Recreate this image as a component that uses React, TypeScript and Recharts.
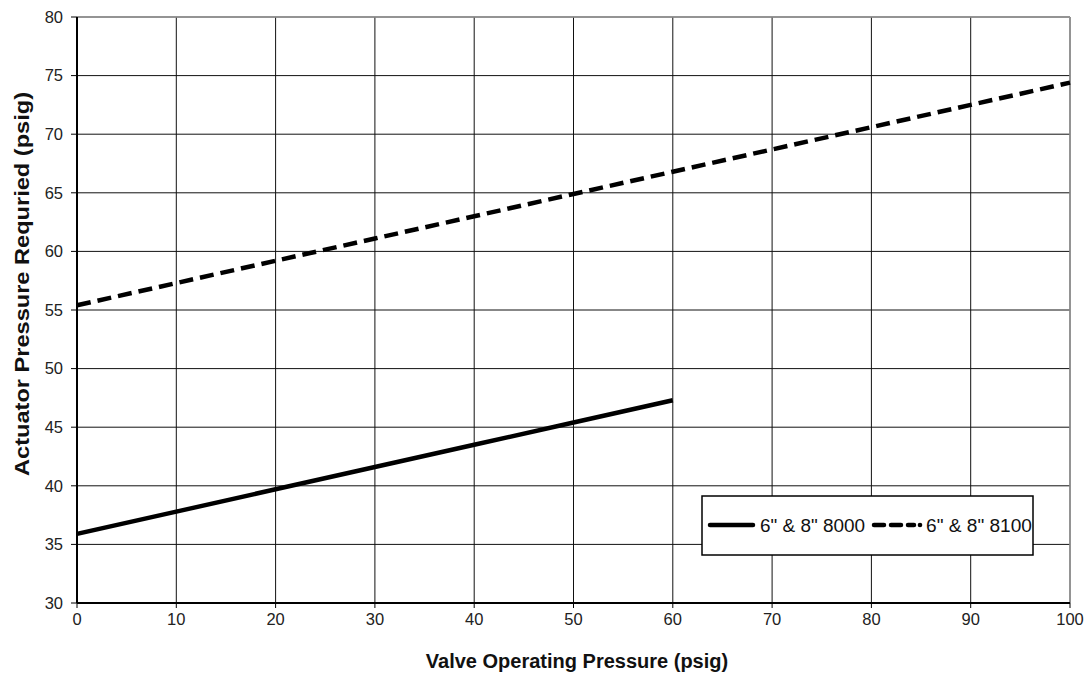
import { LineChart, Line, XAxis, YAxis, CartesianGrid, ReferenceLine } from "recharts";

const pressures = [0, 10, 20, 30, 40, 50, 60, 70, 80, 90, 100];
const series8000 = [35.9, 37.8, 39.7, 41.6, 43.5, 45.4, 47.3];
const series8100 = [55.4, 57.3, 59.2, 61.1, 63.0, 64.9, 66.8, 68.7, 70.6, 72.5, 74.4];
const xTicks = [0, 10, 20, 30, 40, 50, 60, 70, 80, 90, 100];
const yTicks = [30, 35, 40, 45, 50, 55, 60, 65, 70, 75, 80];
const legendNames = ['6" & 8" 8000', '6" & 8" 8100'];

const data = pressures.map((p, i) => ({
  p,
  s8000: i < series8000.length ? series8000[i] : null,
  s8100: series8100[i],
}));

const FONT = "'Liberation Sans', Arial, sans-serif";

// legend drawn as its own svg so it doesn't steal space from the plot
function LegendBox() {
  const textStyle = { fontSize: 18, fill: "#111", fontFamily: FONT };
  return (
    <svg
      width={333}
      height={61}
      style={{ position: "absolute", left: 701, top: 495 }}
    >
      <rect x={1} y={1} width={331} height={59} fill="#fff" stroke="#000" strokeWidth={1.5} />
      <line x1={9} y1={30} x2={52} y2={30} stroke="#000" strokeWidth={4.5} strokeLinecap="round" />
      <text x={59} y={37} style={textStyle} textLength={105} lengthAdjust="spacingAndGlyphs">
        {legendNames[0]}
      </text>
      <line x1={173} y1={30} x2={213} y2={30} stroke="#000" strokeWidth={4.5} strokeDasharray="10 7" strokeLinecap="round" />
      <circle cx={219} cy={30} r={2.3} fill="#000" />
      <text x={225} y={37} style={textStyle} textLength={106} lengthAdjust="spacingAndGlyphs">
        {legendNames[1]}
      </text>
    </svg>
  );
}

const tickStyle = { fontSize: 16.5, fill: "#222", fontFamily: FONT };
const titleStyle = { fontSize: 20, fontWeight: "bold", fill: "#111", fontFamily: FONT } as const;

export default function App() {
  return (
    <div style={{ position: "absolute", left: 0, top: 0, width: 1091, height: 677, background: "#fff" }}>
      <LineChart
        width={1091}
        height={677}
        data={data}
        margin={{ top: 17, right: 21, bottom: 34, left: 0 }}
        style={{ fontFamily: FONT }}
      >
        <CartesianGrid stroke="#111" strokeWidth={1} />
        <XAxis
          dataKey="p"
          type="number"
          domain={[0, 100]}
          ticks={xTicks}
          height={40}
          fontSize={16.5}
          tick={tickStyle}
          tickLine={{ stroke: "#000" }}
          tickSize={5}
          tickMargin={5}
          axisLine={{ stroke: "#000", strokeWidth: 2 }}
          label={{
            content: () => (
              <text x={577} y={668} textAnchor="middle" style={titleStyle}>
                Valve Operating Pressure (psig)
              </text>
            ),
          }}
        />
        <YAxis
          type="number"
          domain={[30, 80]}
          ticks={yTicks}
          width={77}
          fontSize={16.5}
          tick={tickStyle}
          tickLine={{ stroke: "#000" }}
          tickSize={6}
          tickMargin={8}
          axisLine={{ stroke: "#000", strokeWidth: 2 }}
          label={{
            content: () => (
              <text
                x={29}
                y={284}
                textAnchor="middle"
                transform="rotate(-90, 29, 284)"
                style={titleStyle}
                textLength={384}
                lengthAdjust="spacingAndGlyphs"
              >
                Actuator Pressure Requried (psig)
              </text>
            ),
          }}
        />
        <ReferenceLine y={80} stroke="#999" strokeWidth={1.5} />
        <ReferenceLine x={100} stroke="#999" strokeWidth={1.5} />
        <Line
          dataKey="s8000"
          stroke="#000"
          strokeWidth={4.5}
          dot={false}
          connectNulls={false}
          isAnimationActive={false}
        />
        <Line
          dataKey="s8100"
          stroke="#000"
          strokeWidth={4.5}
          strokeDasharray="14 7"
          dot={false}
          isAnimationActive={false}
        />
      </LineChart>
      <LegendBox />
    </div>
  );
}
